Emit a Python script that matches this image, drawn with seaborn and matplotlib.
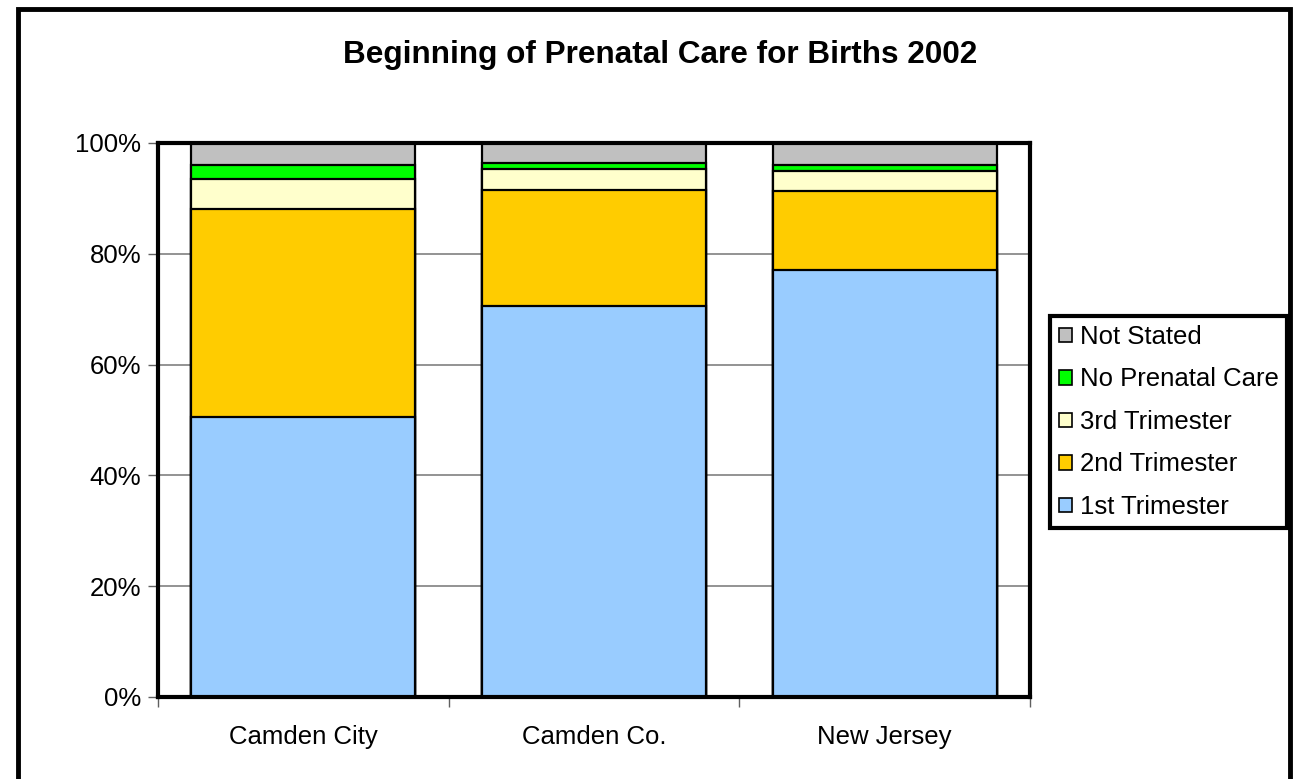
import matplotlib
matplotlib.use('Agg')
import matplotlib.pyplot as plt
import matplotlib.patches as mpatches
from matplotlib.ticker import PercentFormatter
import numpy as np
import pandas as pd
import seaborn as sns

# Donnees (pourcentages)
regions = ['Camden City', 'Camden Co.', 'New Jersey']
first_tri = [50.5, 70.6, 77.0]
second_tri = [37.6, 21.0, 14.3]
third_tri = [5.4, 3.7, 3.6]
no_care = [2.6, 1.1, 1.2]
not_stated = [3.9, 3.6, 3.9]

series = ['1st Trimester', '2nd Trimester', '3rd Trimester', 'No Prenatal Care', 'Not Stated']
colors = ['#99CCFF', '#FFCC00', '#FFFFCC', '#00FF00', '#C0C0C0']

sns.set_style('white')
plt.rcParams['font.family'] = ['Liberation Sans', 'DejaVu Sans']
plt.rcParams['text.color'] = 'black'
plt.rcParams['xtick.color'] = 'black'
plt.rcParams['ytick.color'] = 'black'

df = pd.DataFrame({'region': regions, series[0]: first_tri, series[1]: second_tri,
                   series[2]: third_tri, series[3]: no_care, series[4]: not_stated})
cum = df[series].cumsum(axis=1)

fig = plt.figure(figsize=(13.07, 7.79), dpi=100)
ax = fig.add_axes([158 / 1307, 1 - 697 / 779, (1030 - 158) / 1307, (697 - 143) / 779])

# Barres empilees : on dessine les cumuls du plus haut au plus bas
for name, col in reversed(list(zip(series, colors))):
    sns.barplot(x=df['region'], y=cum[name], color=col, width=0.77,
                edgecolor='black', linewidth=1.6, saturation=1, ax=ax, zorder=3)

ax.set_xlim(-0.5, 2.5)
ax.set_ylim(0, 100)
ax.set_yticks(np.arange(0, 101, 20))
ax.yaxis.set_major_formatter(PercentFormatter(decimals=0))
ax.yaxis.grid(True, color='#808080', linewidth=1.2, zorder=0)
ax.set_axisbelow(True)
ax.set_xlabel('')
ax.set_ylabel('')

ax.set_xticks([0, 1, 2])
ax.set_xticks([-0.5, 0.5, 1.5, 2.5], minor=True)
ax.tick_params(axis='x', which='major', length=0, pad=20, labelsize=18.5, labelcolor='black')
ax.tick_params(axis='x', which='minor', length=7, width=1, color='#606060', direction='out', bottom=True)
ax.tick_params(axis='y', length=7, width=1, color='#606060', direction='out', labelsize=18.5,
               pad=5, left=True, labelcolor='black')

for sp in ax.spines.values():
    sp.set_visible(True)
    sp.set_color('black')
    sp.set_linewidth(3)
    sp.set_zorder(5)

fig.text(660 / 1307, 1 - 55 / 779, 'Beginning of Prenatal Care for Births 2002',
         ha='center', va='center', fontsize=22.7, fontweight='bold', color='black')

# Legende
handles = [mpatches.Patch(facecolor=c, edgecolor='black', linewidth=1.2, label=s)
           for s, c in zip(series, colors)]
leg = fig.legend(handles=handles[::-1], loc='upper left',
                 bbox_to_anchor=(1050 / 1307, 1 - 316 / 779), fontsize=18.5,
                 frameon=True, fancybox=False, framealpha=1, handlelength=0.5, handleheight=0.5,
                 handletextpad=0.3, labelspacing=0.72, borderpad=0.35, borderaxespad=0)
leg.get_frame().set_edgecolor('black')
leg.get_frame().set_linewidth(3)
for t in leg.get_texts():
    t.set_color('black')

# Cadre exterieur du graphique
frame = mpatches.Rectangle((18 / 1307, -0.05), (1290 - 18) / 1307, 1.05 - 9 / 779,
                           transform=fig.transFigure, fill=False, edgecolor='black',
                           linewidth=3.5, clip_on=False)
fig.patches.append(frame)

fig.savefig('out.png', dpi=100)
